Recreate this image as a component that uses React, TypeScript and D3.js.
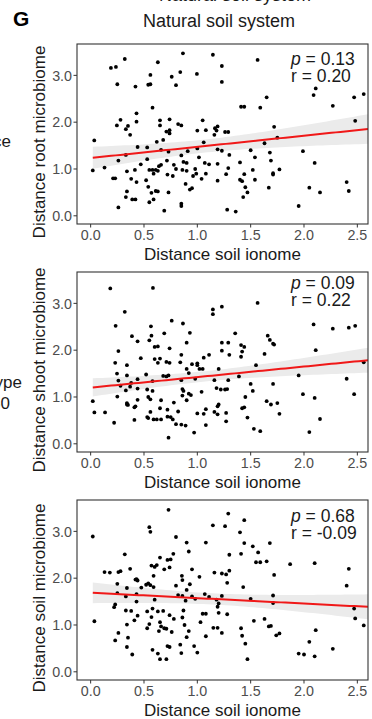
import React from "react";
import * as d3 from "d3";

const xTicks = [0, 0.5, 1, 1.5, 2, 2.5];
const yTicks = [0, 1, 2, 3];

const rootPoints: [number, number][] = [
  [0.865,3.47],[1.146,3.44],[0.32,3.35],[0.63,3.28],[0.19,3.16],[0.237,3.18],[0.996,3.03],[0.56,3.01],[0.76,2.97],[0.84,3.07],
  [0.25,2.81],[0.42,2.76],[0.54,2.8],[0.56,2.81],[0.8,2.79],[0.58,2.31],[0.43,2.19],[0.28,2.05],[0.43,2.01],[0.246,1.93],
  [0.35,1.92],[0.33,1.85],[0.37,1.73],[0.65,2.04],[0.74,2.06],[0.65,1.93],[0.82,1.96],[0.85,1.93],[0.71,1.8],[0.74,1.83],
  [0.74,1.76],[1.05,2.04],[1.165,1.87],[1.19,1.91],[1.0,1.82],[1.08,1.83],[1.16,1.73],[1.18,1.82],[0.034,1.61],[0.62,1.58],
  [0.68,1.62],[0.44,1.47],[0.53,1.46],[0.66,1.41],[0.73,1.37],[0.33,1.3],[0.26,1.18],[0.53,1.21],[0.85,1.29],[0.91,1.38],
  [1.0,1.44],[1.06,1.57],[1.015,1.25],[1.07,1.13],[1.11,1.1],[1.19,1.42],[1.19,1.11],[0.715,1.18],[0.87,1.15],[0.9,1.13],
  [0.78,1.09],[0.8,1.0],[0.86,0.98],[0.9,0.96],[0.98,1.0],[0.99,0.9],[0.96,0.85],[1.04,0.79],[1.08,0.9],[1.19,0.75],
  [0.02,0.97],[0.13,1.03],[0.21,0.8],[0.23,0.8],[0.34,0.95],[0.415,0.98],[0.38,0.79],[0.43,0.72],[0.47,1.1],[0.55,0.98],
  [0.58,0.98],[0.61,0.98],[0.59,0.9],[0.63,0.96],[0.64,1.06],[0.66,1.09],[0.52,0.76],[0.54,0.62],[0.57,0.49],[0.61,0.53],
  [0.63,0.52],[0.72,0.88],[0.77,0.85],[0.73,0.5],[0.34,0.52],[0.33,0.4],[0.39,0.35],[0.42,0.35],[0.59,0.35],[0.55,0.29],
  [0.26,0.18],[0.69,0.11],[0.85,0.26],[0.85,0.21],[0.89,0.68],[0.93,0.56],[0.95,0.59],
  [1.565,3.33],[1.23,3.2],[1.23,2.86],[2.11,2.72],[2.09,2.58],[2.56,2.6],[2.47,2.53],[1.65,2.53],[2.27,2.35],[1.41,2.33],
  [1.44,2.33],[1.59,2.31],[2.48,2.03],[1.72,1.9],[1.26,1.79],[1.29,1.79],[1.75,1.67],[1.63,1.55],[1.23,1.39],[1.5,1.4],
  [1.3,1.3],[1.68,1.35],[1.99,1.38],[1.54,1.25],[2.1,1.13],[1.69,1.18],[1.4,1.14],[1.29,1.02],[1.27,0.89],[1.44,0.89],
  [1.52,0.98],[1.71,0.91],[1.71,0.88],[1.77,0.99],[1.4,0.77],[1.42,0.74],[1.54,0.77],[1.45,0.61],[1.47,0.5],[1.43,0.4],
  [1.67,0.6],[2.05,0.6],[2.15,0.5],[2.4,0.72],[2.42,0.53],[1.28,0.13],[1.36,0.09],[1.95,0.21],
];

const shootPoints: [number, number][] = [
  [0.184,3.32],[0.584,3.33],[0.32,2.82],[1.146,2.87],[1.146,2.77],[0.234,2.52],[0.76,2.63],[0.865,2.57],[0.565,2.51],[0.387,2.3],
  [0.44,2.19],[0.57,2.31],[0.55,2.21],[0.69,2.36],[0.93,2.37],[0.9,2.16],[0.6,2.07],[0.63,2.08],[0.74,2.04],[0.26,1.98],
  [0.85,1.9],[0.47,1.83],[0.6,1.81],[0.65,1.82],[0.74,1.73],[0.71,1.75],[0.84,1.74],[0.23,1.73],[0.34,1.68],[0.63,1.73],
  [0.95,1.7],[1.0,1.72],[1.0,1.68],[1.06,1.84],[1.11,1.9],[0.9,1.6],[1.02,1.6],[1.05,1.6],[0.92,1.51],[1.2,1.6],
  [0.247,1.5],[0.34,1.46],[0.52,1.48],[0.68,1.45],[0.71,1.44],[0.73,1.46],[0.26,1.35],[0.28,1.24],[0.38,1.3],[0.37,1.22],
  [0.33,1.14],[0.44,1.38],[0.44,1.18],[0.58,1.34],[0.58,1.13],[0.53,1.16],[0.85,1.36],[0.98,1.39],[1.16,1.36],[1.18,1.19],
  [1.22,1.16],[0.86,1.17],[0.87,1.13],[0.92,1.07],[0.94,1.04],[0.86,1.03],[0.9,0.93],[1.04,1.11],[0.25,1.01],[0.02,0.91],
  [0.035,0.67],[0.135,0.67],[0.22,0.45],[0.34,0.87],[0.35,0.83],[0.34,0.84],[0.44,0.94],[0.42,0.8],[0.41,0.78],[0.41,0.51],
  [0.54,1.0],[0.56,0.95],[0.66,0.93],[0.56,0.68],[0.53,0.57],[0.54,0.55],[0.59,0.52],[0.62,0.52],[0.66,0.52],[0.65,0.76],
  [0.72,0.73],[0.72,0.58],[0.75,0.57],[0.77,0.52],[0.78,0.88],[0.82,0.69],[0.8,0.42],[0.85,0.41],[0.89,0.39],[0.73,0.13],
  [0.97,0.24],[1.0,0.65],[1.08,0.74],[1.06,0.64],[1.08,0.4],[1.16,0.68],[1.19,0.63],[1.2,0.84],[1.19,0.8],
  [1.23,2.93],[1.565,3.01],[2.09,2.55],[2.27,2.46],[2.42,2.48],[2.48,2.52],[1.355,2.36],[1.66,2.31],[1.68,2.22],[1.71,2.14],
  [1.72,2.12],[1.23,2.16],[1.29,2.16],[1.23,1.99],[1.41,2.11],[1.44,2.07],[1.42,1.97],[1.3,1.9],[1.41,1.86],[1.63,1.92],
  [2.11,2.0],[1.55,1.68],[2.56,1.74],[1.95,1.46],[2.4,1.39],[1.29,1.36],[1.39,1.44],[1.5,1.28],[1.52,1.13],[1.71,1.28],
  [1.26,1.16],[1.28,1.17],[1.99,1.06],[2.1,0.98],[2.47,1.06],[1.45,1.0],[1.65,0.91],[1.69,0.84],[1.75,0.87],[1.77,0.64],
  [1.42,0.76],[1.44,0.78],[1.27,0.66],[1.27,0.48],[1.47,0.56],[1.53,0.32],[1.59,0.27],[2.15,0.53],[2.05,0.25],
];

const soilPoints: [number, number][] = [
  [0.73,3.46],[0.02,2.89],[0.55,3.09],[0.56,2.99],[1.146,3.13],[0.8,2.88],[0.9,2.76],[1.08,2.76],[0.92,2.57],[0.32,2.51],
  [0.775,2.52],[0.65,2.44],[0.72,2.39],[0.75,2.4],[0.74,2.23],[0.69,2.19],[0.57,2.27],[0.6,2.24],[0.62,2.28],[0.37,2.2],
  [0.13,2.13],[0.18,2.12],[0.26,2.13],[0.28,2.15],[0.42,1.97],[0.44,1.95],[0.43,1.98],[0.59,2.05],[0.855,2.05],[0.86,1.96],
  [0.95,2.19],[1.02,2.03],[1.16,2.12],[0.25,1.88],[0.34,1.79],[0.475,1.8],[0.52,1.86],[0.54,1.89],[0.56,1.85],[0.59,1.81],
  [0.43,1.66],[0.25,1.68],[0.33,1.61],[0.43,1.5],[0.8,1.84],[0.9,1.75],[0.93,1.87],[0.82,1.64],[0.86,1.62],[0.95,1.61],
  [0.98,1.56],[0.6,1.54],[0.89,1.52],[1.07,1.66],[1.11,1.6],[1.18,1.54],[1.2,1.46],[1.19,1.39],[0.22,1.38],[0.23,1.44],
  [0.33,1.31],[0.38,1.3],[0.44,1.2],[0.41,1.1],[0.34,1.01],[0.26,0.83],[0.23,0.67],[0.35,0.73],[0.34,0.53],[0.39,0.37],
  [0.035,1.08],[0.53,1.29],[0.58,1.35],[0.63,1.29],[0.68,1.3],[0.57,1.17],[0.55,1.02],[0.53,0.93],[0.65,1.06],[0.64,0.87],
  [0.66,0.97],[0.69,0.93],[0.74,1.21],[0.78,1.13],[0.71,0.92],[0.76,0.85],[0.87,1.31],[0.86,1.16],[0.88,1.0],[0.92,0.87],
  [0.9,0.74],[1.05,1.24],[1.08,1.24],[1.03,1.06],[1.08,0.76],[1.2,1.26],[1.15,0.94],[1.19,0.94],[0.58,0.47],[0.63,0.39],
  [0.65,0.27],[0.71,0.27],[0.72,0.55],[0.74,0.53],[0.84,0.58],[0.85,0.4],[0.97,0.55],[1.0,0.41],
  [1.29,3.38],[1.26,3.11],[1.44,3.24],[1.4,2.98],[1.44,2.75],[1.68,2.75],[1.52,2.68],[1.57,2.55],[1.3,2.5],[1.41,2.52],
  [1.55,2.34],[1.59,2.34],[1.65,2.36],[1.87,2.3],[2.1,2.32],[2.42,2.2],[1.23,2.1],[1.27,2.08],[1.3,2.16],[1.28,1.9],
  [1.72,2.07],[1.43,1.81],[2.4,1.84],[1.23,1.62],[1.5,1.56],[1.71,1.63],[1.71,1.47],[2.47,1.35],[2.48,1.14],[2.56,0.99],
  [1.28,1.23],[1.23,0.83],[1.53,1.09],[1.63,1.13],[1.67,0.97],[1.69,0.98],[1.74,0.78],[1.77,0.82],[1.41,0.93],[1.42,0.77],
  [1.45,0.6],[1.47,0.27],[2.11,0.89],[2.05,0.64],[1.95,0.39],[2.0,0.37],[2.1,0.33],[2.27,0.49],
];

// fitted line [intercept, slope] and CI half-width params [a, b, center]
const rootFit = [1.235, 0.238];
const shootFit = [1.2, 0.225];
const soilFit = [1.69, -0.116];
const rootBand = [0.14, 0.183, 1.05];
const shootBand = [0.11, 0.156, 1.05];
const soilBand = [0.12, 0.164, 1.15];

const yLabels = ["Distance root microbiome", "Distance shoot microbiome", "Distance soil microbiome"];
const pValues = ["0.13", "0.09", "0.68"];
const rValues = ["0.20", "0.22", "-0.09"];

const FONT = "'Liberation Sans', Arial, Helvetica, sans-serif";

const X0 = 77, X1 = 368, PH = 180;

function Panel({ top, points, fit, band, yLabel, p, r, statY }: any) {
  const x = d3.scaleLinear().domain([-0.128, 2.6]).range([X0, X1]);
  const y = d3.scaleLinear().domain([-0.175, 3.67]).range([top + PH, top]);
  const bottom = top + PH;
  const xMin = d3.min(points, (d: [number, number]) => d[0]) as number;
  const xs = d3.range(0, 61).map((i) => xMin + (2.6 - xMin) * (i / 60));
  const fy = (v: number) => fit[0] + fit[1] * v;
  const hw = (v: number) => Math.sqrt(band[0] * band[0] + band[1] * band[1] * (v - band[2]) * (v - band[2]));
  const area = d3.area<number>().x((v) => x(v)).y0((v) => y(fy(v) - hw(v))).y1((v) => y(fy(v) + hw(v)));
  const line = d3.line<number>().x((v) => x(v)).y((v) => y(fy(v)));
  const clipId = `clip${top}`;
  return (
    <g>
      <defs>
        <clipPath id={clipId}>
          <rect x={X0} y={top} width={X1 - X0} height={PH} />
        </clipPath>
      </defs>
      <g clipPath={`url(#${clipId})`}>
        <path d={area(xs) || ""} fill="#ebebeb" />
        {points.map((d: [number, number], i: number) => (
          <circle key={i} cx={x(d[0])} cy={y(d[1])} r={1.9} fill="#000" />
        ))}
        <path d={line(xs) || ""} fill="none" stroke="#f01818" strokeWidth={2} />
      </g>
      <rect x={X0} y={top} width={X1 - X0} height={PH} fill="none" stroke="#333" strokeWidth={1.1} />
      {xTicks.map((t) => (
        <g key={"x" + t}>
          <line x1={x(t)} x2={x(t)} y1={bottom} y2={bottom + 3.5} stroke="#333" strokeWidth={1} />
          <text x={x(t)} y={bottom + 16} textAnchor="middle" fontSize={14.3} fill="#4d4d4d" fontFamily={FONT}>
            {t.toFixed(1)}
          </text>
        </g>
      ))}
      {yTicks.map((t) => (
        <g key={"y" + t}>
          <line x1={X0 - 3.5} x2={X0} y1={y(t)} y2={y(t)} stroke="#333" strokeWidth={1} />
          <text x={X0 - 5} y={y(t)} dy="0.36em" textAnchor="end" fontSize={14.3} fill="#4d4d4d" fontFamily={FONT}>
            {t.toFixed(1)}
          </text>
        </g>
      ))}
      <text x={(X0 + X1) / 2 + 0} y={bottom + 36} textAnchor="middle" fontSize={17} fill="#1a1a1a" fontFamily={FONT}>
        Distance soil ionome
      </text>
      <text
        transform={`translate(45,${top + 98}) rotate(-90)`}
        textAnchor="middle"
        fontSize={17}
        fill="#1a1a1a"
        fontFamily={FONT}
      >
        {yLabel}
      </text>
      <text x={291} y={statY} fontSize={17.5} fill="#1a1a1a" fontFamily={FONT}>
        <tspan fontStyle="italic">p</tspan> = {p}
      </text>
      <text x={291} y={statY + 16.7} fontSize={17.5} fill="#1a1a1a" fontFamily={FONT}>
        r = {r}
      </text>
    </g>
  );
}

export default function App() {
  const tops = [44, 272, 500];
  const statYs = [65, 289, 522];
  const pts = [rootPoints, shootPoints, soilPoints];
  const fits = [rootFit, shootFit, soilFit];
  const bands = [rootBand, shootBand, soilBand];
  return (
    <svg
      width={372}
      height={719}
      style={{ position: "absolute", left: 0, top: 0, background: "#fff" }}
    >
      <rect x={0} y={0} width={372} height={719} fill="#fff" />
      <text x={235} y={1} textAnchor="middle" fontSize={18} fill="#1a1a1a" fontFamily={FONT}>
        Natural soil system
      </text>
      <text x={13} y={25.5} fontSize={21} fontWeight="bold" fill="#000" fontFamily={FONT}>
        G
      </text>
      <text x={219} y={27} textAnchor="middle" fontSize={18} fill="#1a1a1a" fontFamily={FONT}>
        Natural soil system
      </text>
      <text x={11} y={147} textAnchor="end" fontSize={17} fill="#1a1a1a" fontFamily={FONT}>
        Distance
      </text>
      <text x={22} y={388} textAnchor="end" fontSize={17} fill="#1a1a1a" fontFamily={FONT}>
        Genotype
      </text>
      <text x={10} y={409} textAnchor="end" fontSize={17} fill="#1a1a1a" fontFamily={FONT}>
        = 0.50
      </text>
      {tops.map((t, i) => (
        <Panel
          key={i}
          top={t}
          points={pts[i]}
          fit={fits[i]}
          band={bands[i]}
          yLabel={yLabels[i]}
          p={pValues[i]}
          r={rValues[i]}
          statY={statYs[i]}
        />
      ))}
    </svg>
  );
}
